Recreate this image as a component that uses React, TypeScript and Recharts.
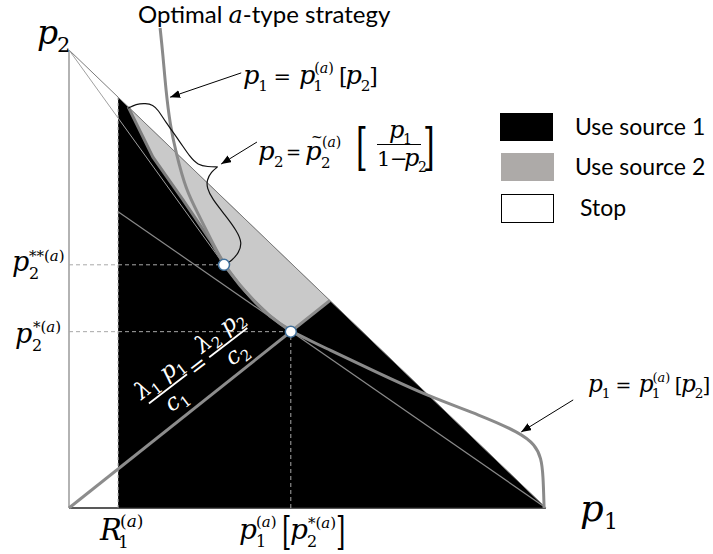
import React from "react";
import {
  ComposedChart,
  XAxis,
  YAxis,
  Area,
  Line,
  ReferenceLine,
  ReferenceDot,
} from "recharts";

// ---- Strategy regions on the simplex p1 + p2 <= 1 ----
const R1 = 0.103; // stop threshold R1^(a)

// lower edge of the "use source 2" region (p1, p2)
const sourceTwoP1 = [0.124, 0.176, 0.239, 0.296, 0.325, 0.359, 0.39, 0.421, 0.465, 0.547];
const sourceTwoP2 = [0.876, 0.766, 0.673, 0.585, 0.531, 0.485, 0.45, 0.419, 0.385, 0.453];

// threshold curve p1 = p1^(a)[p2]
const thresholdP1 = [0.191, 0.197, 0.203, 0.212, 0.224, 0.245, 0.273, 0.3, 0.325, 0.369, 0.417, 0.465, 0.547, 0.631, 0.757, 0.862, 0.946, 0.977, 0.99, 0.994, 0.996];
const thresholdP2 = [1.048, 0.989, 0.913, 0.836, 0.777, 0.694, 0.638, 0.581, 0.531, 0.472, 0.421, 0.385, 0.345, 0.303, 0.242, 0.203, 0.164, 0.138, 0.109, 0.072, 0.0];

// brace marking the tilde-p2 boundary
const braceP1 = [0.124, 0.14, 0.161, 0.176, 0.187, 0.201, 0.233, 0.254, 0.27, 0.291, 0.312, 0.312, 0.298, 0.289, 0.289, 0.3, 0.327, 0.352, 0.363, 0.356, 0.34, 0.329];
const braceP2 = [0.873, 0.882, 0.884, 0.88, 0.869, 0.845, 0.799, 0.766, 0.749, 0.745, 0.745, 0.745, 0.734, 0.716, 0.699, 0.675, 0.64, 0.605, 0.579, 0.557, 0.539, 0.533];

// key points
const pointStarStar = { p1: 0.325, p2: 0.531 }; // p2**(a)
const pointStar = { p1: 0.465, p2: 0.385 }; // p2*(a)
const lambdaEnd = { p1: 0.547, p2: 0.453 }; // lambda1 p1/c1 = lambda2 p2/c2 meets p1 + p2 = 1
const rayFromTop = [{ x: 0, y: 1 }, { x: 0.325, y: 0.531 }];
const rayFromRight = [{ x: R1, y: 0.647 }, { x: 1, y: 0 }];

// annotation arrows [from, to]
const arrowUpper = [{ x: 0.361, y: 0.95 }, { x: 0.212, y: 0.897 }];
const arrowBrace = [{ x: 0.394, y: 0.799 }, { x: 0.319, y: 0.751 }];
const arrowLower = [{ x: 1.057, y: 0.236 }, { x: 0.948, y: 0.166 }];

// legend
const legendItems = ["Use source 1", "Use source 2", "Stop"];

// ---- tables for the library ----
const toPoints = (xs: number[], ys: number[]) => xs.map((x, i) => ({ x, y: ys[i] }));
const blackTable = [
  { x: R1, band: [0, 1 - R1] },
  { x: 1, band: [0, 0] },
];
const grayTable = sourceTwoP1.map((x, i) => ({
  x,
  band: [Math.min(sourceTwoP2[i], 1 - x), 1 - x],
}));
const boundaryTable = toPoints(sourceTwoP1.slice(0, 9), sourceTwoP2.slice(0, 9));
const thresholdTable = toPoints(thresholdP1, thresholdP2);
const braceTable = toPoints(braceP1, braceP2);
const lambdaTable = [{ x: 0, y: 0 }, { x: lambdaEnd.p1, y: lambdaEnd.p2 }];

const MATH = "'DejaVu Serif', serif";
const SANS = "Lato, 'Open Sans', sans-serif";

const A = () => (
  <>
    (<tspan fontStyle="italic">a</tspan>)
  </>
);

function T(props: any) {
  const { x, y, s, i, children, fill = "#000", anchor = "start" } = props;
  return (
    <text x={x} y={y} fontSize={s} fontStyle={i ? "italic" : "normal"} fontFamily={MATH} fill={fill} textAnchor={anchor}>
      {children}
    </text>
  );
}

// p1 = p1^(a)[p2]
function ThresholdLabel({ x, y, k }: { x: number; y: number; k: number }) {
  return (
    <g transform={`translate(${x},${y}) scale(${k})`}>
      <T x={0} y={0} s={27} i>p</T>
      <T x={16} y={7} s={16}>1</T>
      <T x={32} y={0} s={22}>=</T>
      <T x={59} y={0} s={27} i>p</T>
      <T x={75} y={-12} s={15}><A /></T>
      <T x={74} y={7} s={16}>1</T>
      <T x={101} y={0} s={23}>[</T>
      <T x={108} y={0} s={27} i>p</T>
      <T x={124} y={7} s={16}>2</T>
      <T x={133} y={0} s={23}>]</T>
    </g>
  );
}

function Annotations() {
  return (
    <svg width={713} height={554} style={{ position: "absolute", left: 0, top: 0, pointerEvents: "none" }}>
      <defs>
        <marker id="arrowHead" viewBox="0 0 10 8" refX="10" refY="4" markerWidth="10" markerHeight="8" markerUnits="userSpaceOnUse" orient="auto">
          <path d="M0,0 L10,4 L0,8 z" fill="#000" />
        </marker>
      </defs>

      {/* axis names */}
      <T x={37} y={44} s={33} i>p</T>
      <T x={57} y={52} s={21}>2</T>
      <T x={580} y={521} s={37} i>p</T>
      <T x={604} y={529} s={22}>1</T>

      {/* title */}
      <text x={138} y={23} fontFamily={SANS} fontSize={24} fill="#000">
        Optimal <tspan fontFamily={MATH} fontStyle="italic">a</tspan>-type strategy
      </text>

      <ThresholdLabel x={243} y={84} k={0.95} />
      <ThresholdLabel x={588} y={392} k={0.86} />

      {/* p2 = tilde p2^(a)[p1/(1-p2)] */}
      <g>
        <T x={258} y={160} s={26} i>p</T>
        <T x={274} y={167} s={15}>2</T>
        <T x={286} y={159} s={18}>=</T>
        <T x={305} y={160} s={26} i>p</T>
        <T x={311} y={142} s={14}>~</T>
        <T x={322} y={147} s={14}><A /></T>
        <T x={321} y={168} s={15}>2</T>
        <text x={356} y={164} fontSize={50} fontFamily={MATH} transform="translate(356,164) scale(0.6,1) translate(-356,-164)">[</text>
        <T x={389} y={138} s={24} i>p</T>
        <T x={403} y={144} s={14}>1</T>
        <line x1={377} y1={144.5} x2={421} y2={144.5} stroke="#000" strokeWidth={1.2} />
        <T x={377} y={166} s={21}>1</T>
        <T x={390} y={166} s={21}>−</T>
        <T x={404} y={166} s={24} i>p</T>
        <T x={418} y={172} s={14}>2</T>
        <text x={423} y={164} fontSize={50} fontFamily={MATH} transform="translate(423,164) scale(0.6,1) translate(-423,-164)">]</text>
      </g>

      {/* p2**(a) and p2*(a) */}
      <T x={12} y={271} s={27} i>p</T>
      <T x={29} y={279} s={16}>2</T>
      <T x={29} y={261} s={15}>**<A /></T>
      <T x={15} y={343} s={27} i>p</T>
      <T x={32} y={351} s={16}>2</T>
      <T x={33} y={332} s={15}>*<A /></T>

      {/* R1(a) */}
      <T x={100} y={540} s={29} i>R</T>
      <T x={118} y={548} s={17}>1</T>
      <T x={120} y={527} s={17}><A /></T>

      {/* p1(a)[p2*(a)] */}
      <T x={239} y={539} s={28} i>p</T>
      <T x={256} y={527} s={15}><A /></T>
      <T x={256} y={547} s={16}>1</T>
      <text x={282} y={544} fontSize={40} fontFamily={MATH} transform="translate(282,544) scale(0.6,1) translate(-282,-544)">[</text>
      <T x={290} y={539} s={28} i>p</T>
      <T x={307} y={547} s={16}>2</T>
      <T x={308} y={528} s={15}>*<A /></T>
      <text x={336} y={544} fontSize={40} fontFamily={MATH} transform="translate(336,544) scale(0.6,1) translate(-336,-544)">]</text>

      {/* lambda1 p1 / c1 = lambda2 p2 / c2 */}
      <g transform="translate(197.5,365) rotate(-37.5)" fill="#fff">
        <T x={-38} y={-6} s={23} i fill="#fff" anchor="middle">
          λ<tspan fontSize={15} fontStyle="normal" dy={5}>1</tspan>
          <tspan dy={-5}> p</tspan>
          <tspan fontSize={15} fontStyle="normal" dy={5}>1</tspan>
        </T>
        <line x1={-62} y1={1} x2={-14} y2={1} stroke="#fff" strokeWidth={1.8} />
        <T x={-38} y={22} s={23} i fill="#fff" anchor="middle">
          c<tspan fontSize={15} fontStyle="normal" dy={5}>1</tspan>
        </T>
        <T x={0} y={8} s={22} fill="#fff" anchor="middle">=</T>
        <T x={38} y={-6} s={23} i fill="#fff" anchor="middle">
          λ<tspan fontSize={15} fontStyle="normal" dy={5}>2</tspan>
          <tspan dy={-5}> p</tspan>
          <tspan fontSize={15} fontStyle="normal" dy={5}>2</tspan>
        </T>
        <line x1={14} y1={1} x2={62} y2={1} stroke="#fff" strokeWidth={1.8} />
        <T x={38} y={22} s={23} i fill="#fff" anchor="middle">
          c<tspan fontSize={15} fontStyle="normal" dy={5}>2</tspan>
        </T>
      </g>

      {/* legend */}
      <rect x={500} y={113} width={53} height={28} fill="#000" />
      <rect x={501} y={153} width={53} height={28} fill="#adaaa8" />
      <rect x={501.5} y={194.5} width={52} height={28} fill="#fff" stroke="#000" strokeWidth={1} />
      <text x={575} y={135} fontFamily={SANS} fontSize={23}>{legendItems[0]}</text>
      <text x={575} y={175} fontFamily={SANS} fontSize={23}>{legendItems[1]}</text>
      <text x={580} y={216} fontFamily={SANS} fontSize={23}>{legendItems[2]}</text>
    </svg>
  );
}

export default function App() {
  return (
    <div style={{ position: "absolute", left: 0, top: 0, width: 713, height: 554, background: "#fff" }}>
      <ComposedChart width={713} height={554} margin={{ top: 27.1, right: 23.9, bottom: 46, left: 69 }}>
        <XAxis type="number" dataKey="x" domain={[0, 1.3]} hide />
        <YAxis type="number" domain={[0, 1.05]} hide />

        <Area data={blackTable} dataKey="band" type="linear" fill="#000" fillOpacity={1} stroke="none" isAnimationActive={false} />
        <Area data={grayTable} dataKey="band" type="linear" fill="#c9c9c9" fillOpacity={1} stroke="none" isAnimationActive={false} />

        {/* simplex edges */}
        <ReferenceLine segment={[{ x: 0, y: 0 }, { x: 0, y: 1 }]} stroke="#9a9a9a" strokeWidth={1.5} />
        <ReferenceLine segment={[{ x: 0, y: 1 }, { x: 1, y: 0 }]} stroke="#7a7a7a" strokeWidth={1} />
        <ReferenceLine segment={[{ x: 0, y: 0 }, { x: 1, y: 0 }]} stroke="#222" strokeWidth={1.5} />
        <ReferenceLine segment={[{ x: R1, y: 0 }, { x: R1, y: 1 - R1 }]} stroke="#9a9a9a" strokeWidth={1} strokeDasharray="3 3" />

        {/* guide lines to the key points */}
        <ReferenceLine segment={[{ x: 0, y: pointStarStar.p2 }, { x: pointStarStar.p1, y: pointStarStar.p2 }]} stroke="#a8a8a8" strokeWidth={1} strokeDasharray="4 3" />
        <ReferenceLine segment={[{ x: 0, y: pointStar.p2 }, { x: pointStar.p1, y: pointStar.p2 }]} stroke="#a8a8a8" strokeWidth={1} strokeDasharray="4 3" />
        <ReferenceLine segment={[{ x: pointStar.p1, y: 0 }, { x: pointStar.p1, y: pointStar.p2 }]} stroke="#a8a8a8" strokeWidth={1} strokeDasharray="4 3" />

        <Line data={rayFromTop} dataKey="y" type="linear" stroke="#a0a0a0" strokeWidth={1} dot={false} activeDot={false} isAnimationActive={false} />
        <Line data={rayFromRight} dataKey="y" type="linear" stroke="#8a8a8a" strokeWidth={1.2} dot={false} activeDot={false} isAnimationActive={false} />

        <Line data={boundaryTable} dataKey="y" type="linear" stroke="#7c7c7c" strokeWidth={3} dot={false} activeDot={false} isAnimationActive={false} />
        <Line data={lambdaTable} dataKey="y" type="linear" stroke="#8c8c8c" strokeWidth={3} dot={false} activeDot={false} isAnimationActive={false} />
        <Line data={thresholdTable} dataKey="y" type="basis" stroke="#8a8a8a" strokeWidth={3} dot={false} activeDot={false} isAnimationActive={false} />
        <Line data={braceTable} dataKey="y" type="basis" stroke="#111" strokeWidth={1.2} dot={false} activeDot={false} isAnimationActive={false} />

        <Line data={arrowUpper} dataKey="y" type="linear" stroke="#000" strokeWidth={1} dot={false} activeDot={false} markerEnd="url(#arrowHead)" isAnimationActive={false} />
        <Line data={arrowBrace} dataKey="y" type="linear" stroke="#000" strokeWidth={1} dot={false} activeDot={false} markerEnd="url(#arrowHead)" isAnimationActive={false} />
        <Line data={arrowLower} dataKey="y" type="linear" stroke="#000" strokeWidth={1} dot={false} activeDot={false} markerEnd="url(#arrowHead)" isAnimationActive={false} />

        <ReferenceDot x={pointStarStar.p1} y={pointStarStar.p2} r={5.5} fill="#fff" stroke="#41719c" strokeWidth={1.5} />
        <ReferenceDot x={pointStar.p1} y={pointStar.p2} r={5.5} fill="#fff" stroke="#41719c" strokeWidth={1.5} />
      </ComposedChart>
      <Annotations />
    </div>
  );
}
